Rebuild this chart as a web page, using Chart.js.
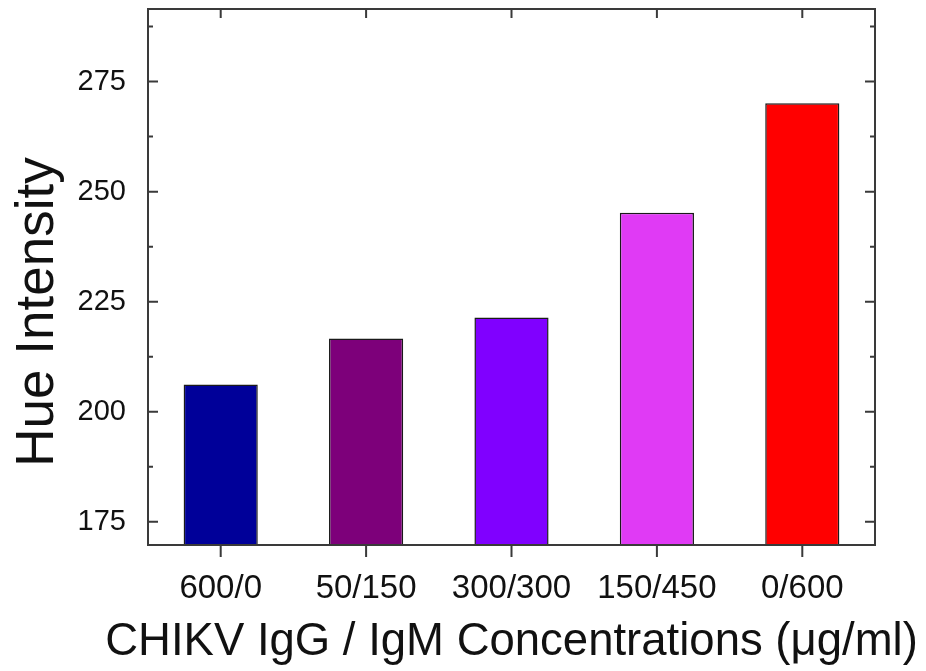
<!DOCTYPE html>
<html>
<head>
<meta charset="utf-8">
<script src="https://cdn.jsdelivr.net/npm/chart.js@4"></script>
<style>
  body { margin: 0; background: #fff; }
  canvas { display: block; }
</style>
</head>
<body>
<canvas id="hueChart" width="926" height="671"></canvas>
<script>
const categories = ["600/0", "50/150", "300/300", "150/450", "0/600"];
const hueValues = [206.2, 216.6, 221.4, 245.2, 270.1];
const barColors = ["#000099", "#7d007a", "#8000ff", "#e03af5", "#ff0000"];
const yTicks = [175, 200, 225, 250, 275];
const yMinorTicks = [187.5, 212.5, 237.5, 262.5, 287.5];
const yMin = 169.7, yMax = 291.5;
const xTitle = "CHIKV IgG / IgM Concentrations (\u03bcg/ml)";
const yTitle = "Hue Intensity";

const font = "'Liberation Sans', Arial, sans-serif";

// frame + inward ticks like the Origin plot, plus axis titles
// (drawn by hand because chart.js squeezes a title wider than its axis)
const framePlugin = {
  id: "frame",
  afterDatasetsDraw(chart) {
    const { ctx, chartArea: a, scales: { x, y } } = chart;
    ctx.save();
    ctx.strokeStyle = "#3a3a3a";
    ctx.lineWidth = 2;
    ctx.strokeRect(a.left, a.top, a.right - a.left, a.bottom - a.top);
    ctx.beginPath();
    yTicks.forEach(v => {
      const p = y.getPixelForValue(v);
      ctx.moveTo(a.left, p); ctx.lineTo(a.left + 10, p);
      ctx.moveTo(a.right, p); ctx.lineTo(a.right - 10, p);
    });
    yMinorTicks.forEach(v => {
      const p = y.getPixelForValue(v);
      ctx.moveTo(a.left, p); ctx.lineTo(a.left + 5, p);
      ctx.moveTo(a.right, p); ctx.lineTo(a.right - 5, p);
    });
    categories.forEach((c, i) => {
      const p = x.getPixelForValue(i);
      ctx.moveTo(p, a.bottom); ctx.lineTo(p, a.bottom + 12);
      ctx.moveTo(p, a.top); ctx.lineTo(p, a.top + 9);
    });
    ctx.stroke();

    ctx.fillStyle = "#111";
    ctx.textAlign = "center";
    ctx.textBaseline = "alphabetic";
    ctx.font = "45.5px " + font;
    ctx.fillText(xTitle, (a.left + a.right) / 2, a.bottom + 110);

    ctx.translate(a.left - 95, a.bottom - 233);
    ctx.rotate(-Math.PI / 2);
    ctx.font = "53px " + font;
    ctx.fillText(yTitle, 0, 0);
    ctx.restore();
  }
};

new Chart(document.getElementById("hueChart").getContext("2d"), {
  type: "bar",
  data: {
    labels: categories,
    datasets: [{
      data: hueValues,
      backgroundColor: barColors,
      borderColor: "#1a1a1a",
      borderWidth: 1.5,
      barPercentage: 0.51,
      categoryPercentage: 1
    }]
  },
  options: {
    responsive: false,
    devicePixelRatio: 1,
    animation: false,
    layout: { padding: { top: 9, right: 51, bottom: 0, left: 0 } },
    plugins: { legend: { display: false }, tooltip: { enabled: false } },
    scales: {
      x: {
        grid: { display: false },
        border: { display: false },
        ticks: { color: "#111", padding: 16, maxRotation: 0, font: { family: font, size: 33 } },
        afterFit(scale) { scale.height = 126; scale.paddingLeft = 0; scale.paddingRight = 0; }
      },
      y: {
        min: yMin,
        max: yMax,
        grid: { display: false },
        border: { display: false },
        ticks: { color: "#111", padding: 14, font: { family: font, size: 29 } },
        afterBuildTicks(scale) { scale.ticks = yTicks.map(v => ({ value: v })); },
        afterFit(scale) { scale.width = 148; scale.paddingTop = 0; scale.paddingBottom = 0; }
      }
    }
  },
  plugins: [framePlugin]
});
</script>
</body>
</html>
